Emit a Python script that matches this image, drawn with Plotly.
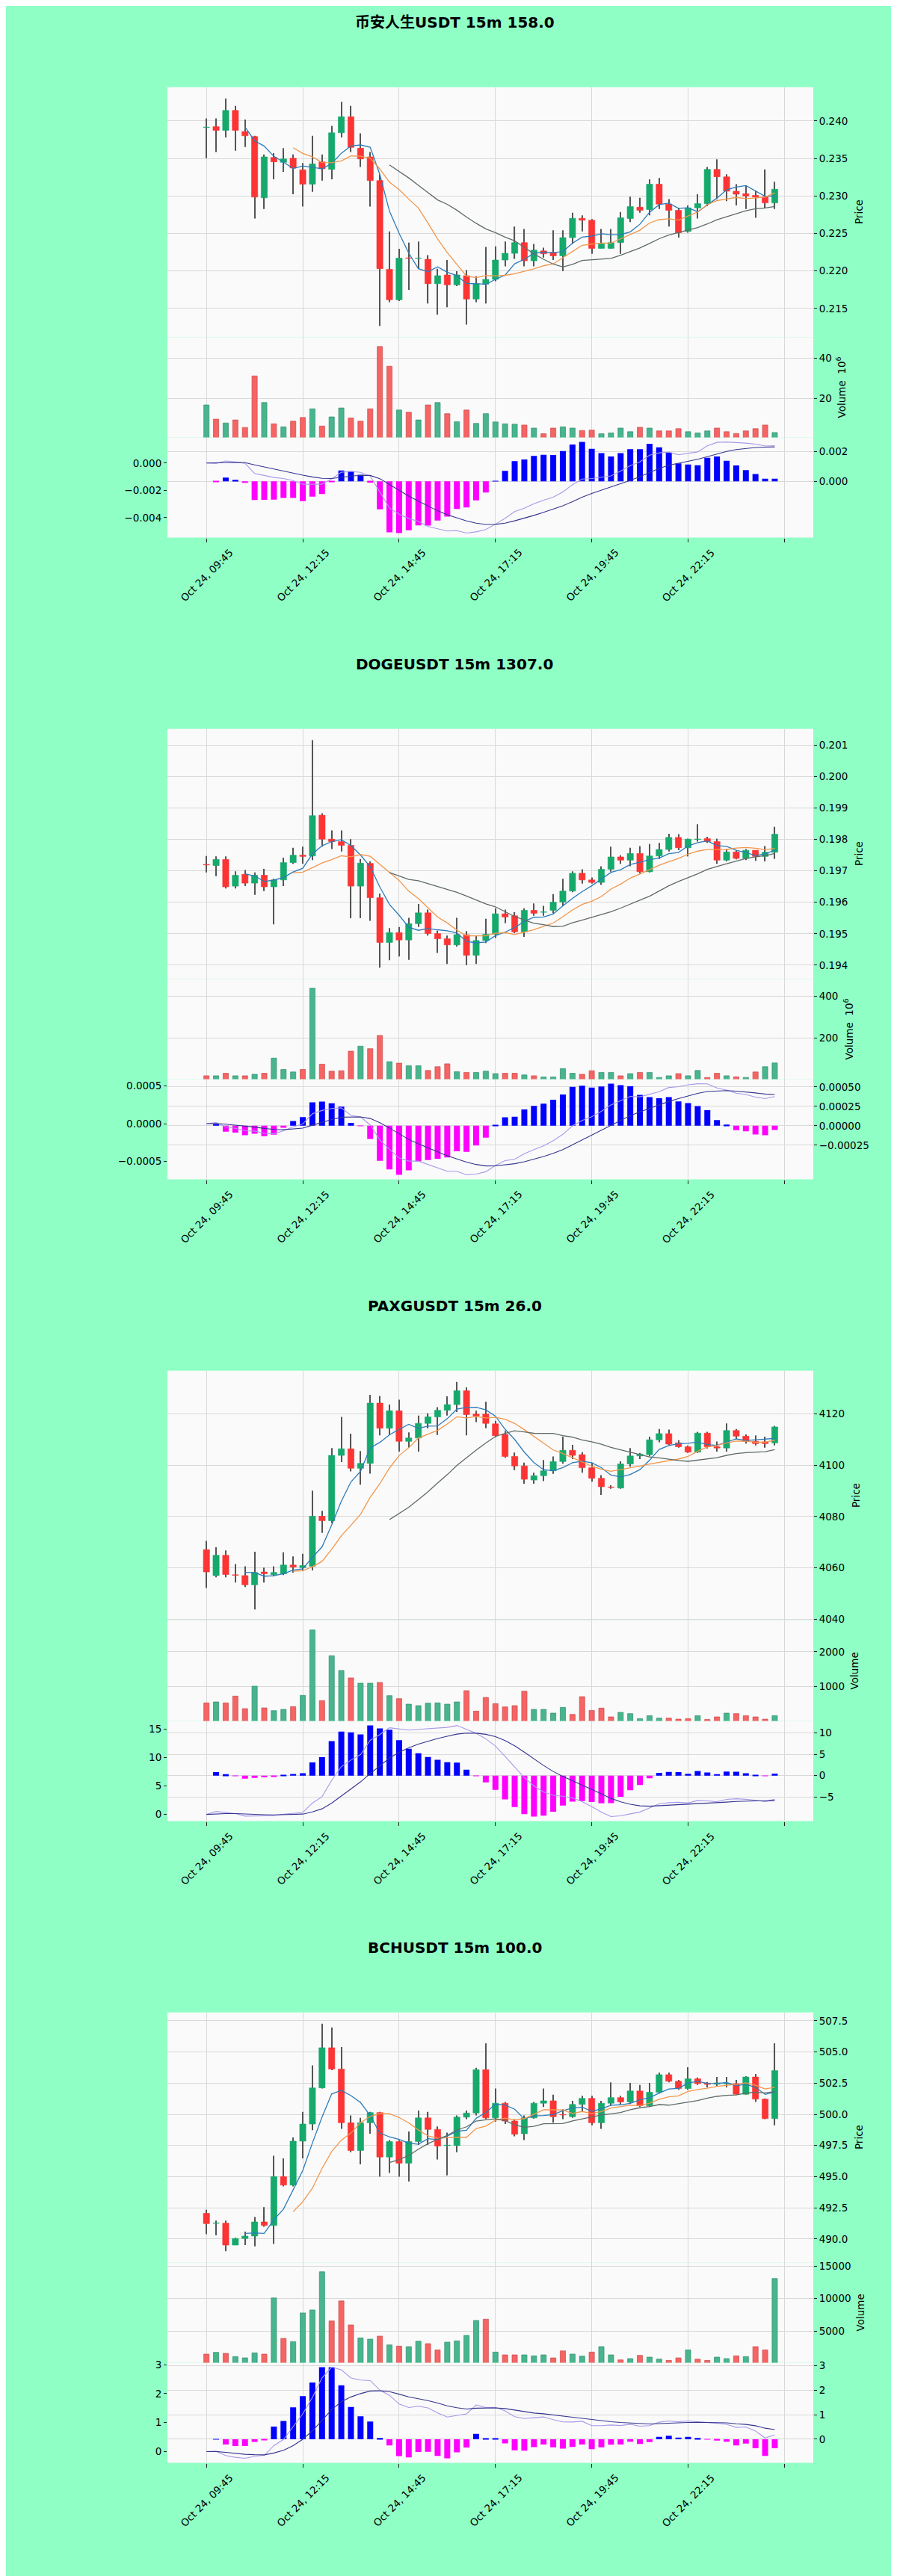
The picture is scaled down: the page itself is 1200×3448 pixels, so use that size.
import numpy as np
import pandas as pd
import plotly.graph_objects as go

# ---------------- data ----------------
TITLES = ["币安人生USDT 15m 158.0", "DOGEUSDT 15m 1307.0", "PAXGUSDT 15m 26.0", "BCHUSDT 15m 100.0"]
TICK_POS = [0, 10, 20, 30, 40, 50, 60]
TICK_LABELS = ["Oct 24, 09:45", "Oct 24, 12:15", "Oct 24, 14:45", "Oct 24, 17:15",
               "Oct 24, 19:45", "Oct 24, 22:15", ""]

p1_open = [0.23911, 0.23924, 0.23874, 0.24139, 0.23858, 0.23791, 0.22974, 0.23513, 0.23447, 0.23503,
           0.23348, 0.23156, 0.23454, 0.23354, 0.23841, 0.24056, 0.23636, 0.23520, 0.23205, 0.22023,
           0.21616, 0.22175, 0.22166, 0.22156, 0.21831, 0.21947, 0.21815, 0.21937, 0.21626, 0.21825,
           0.21888, 0.22146, 0.22235, 0.22378, 0.22136, 0.22268, 0.22245, 0.22202, 0.22444, 0.22702,
           0.22676, 0.22301, 0.22301, 0.22378, 0.22699, 0.22851, 0.22818, 0.23156, 0.22891, 0.22808,
           0.22527, 0.22841, 0.22897, 0.23354, 0.23255, 0.23063, 0.23030, 0.23007, 0.22990, 0.22907]
p1_high = [0.24033, 0.24033, 0.24298, 0.24199, 0.24017, 0.23801, 0.23553, 0.23570, 0.23636, 0.23553,
           0.23437, 0.23801, 0.23553, 0.23934, 0.24255, 0.24199, 0.23834, 0.23586, 0.23288, 0.22527,
           0.22295, 0.22378, 0.22394, 0.22212, 0.22030, 0.22146, 0.21997, 0.22013, 0.21931, 0.22321,
           0.22328, 0.22394, 0.22593, 0.22560, 0.22361, 0.22311, 0.22543, 0.22543, 0.22775, 0.22742,
           0.22692, 0.22560, 0.22560, 0.22785, 0.22990, 0.22974, 0.23222, 0.23238, 0.22957, 0.22841,
           0.22874, 0.23023, 0.23387, 0.23487, 0.23288, 0.23156, 0.23139, 0.23073, 0.23354, 0.23189]
p1_low = [0.23503, 0.23586, 0.23778, 0.23603, 0.23652, 0.22699, 0.22825, 0.23222, 0.23321, 0.23023,
          0.22858, 0.23056, 0.23205, 0.23222, 0.23778, 0.23586, 0.23387, 0.22858, 0.21268, 0.21583,
          0.21600, 0.21749, 0.22030, 0.21566, 0.21417, 0.21517, 0.21798, 0.21285, 0.21583, 0.21566,
          0.21864, 0.22063, 0.22162, 0.22063, 0.22063, 0.22179, 0.22146, 0.21997, 0.22361, 0.22527,
          0.22229, 0.22301, 0.22295, 0.22229, 0.22652, 0.22775, 0.22742, 0.22825, 0.22593, 0.22444,
          0.22510, 0.22699, 0.22864, 0.22957, 0.22931, 0.22874, 0.22825, 0.22709, 0.22841, 0.22825]
p1_close = [0.23915, 0.23874, 0.24139, 0.23874, 0.23801, 0.22984, 0.23520, 0.23454, 0.23493, 0.23371,
            0.23156, 0.23427, 0.23361, 0.23841, 0.24056, 0.23646, 0.23493, 0.23205, 0.22030, 0.21616,
            0.22172, 0.22169, 0.22169, 0.21831, 0.21937, 0.21815, 0.21947, 0.21626, 0.21831, 0.21888,
            0.22146, 0.22235, 0.22378, 0.22136, 0.22278, 0.22229, 0.22202, 0.22444, 0.22702, 0.22676,
            0.22301, 0.22361, 0.22378, 0.22709, 0.22858, 0.22808, 0.23156, 0.22891, 0.22808, 0.22510,
            0.22841, 0.22897, 0.23354, 0.23255, 0.23063, 0.23023, 0.22997, 0.22984, 0.22907, 0.23089]
p1_vol = [16.8, 9.8, 7.9, 9.4, 5.7, 31.1, 18.0, 7.5, 6.0, 8.8,
          10.6, 14.9, 6.4, 10.9, 15.3, 10.4, 8.8, 14.9, 45.6, 35.9,
          14.3, 13.2, 9.4, 16.8, 18.0, 12.5, 8.5, 14.3, 7.7, 12.5,
          8.4, 7.5, 7.3, 6.9, 5.4, 2.6, 5.4, 6.0, 5.4, 4.2,
          4.4, 2.6, 3.0, 5.4, 3.6, 5.8, 5.4, 4.0, 4.0, 5.1,
          3.6, 3.0, 4.0, 5.4, 3.6, 2.7, 4.0, 5.1, 6.9, 3.2]

p2_open = [0.197208, 0.197168, 0.197365, 0.196515, 0.196893, 0.196610, 0.196861, 0.196492, 0.196712, 0.197263,
           0.197499, 0.197475, 0.198773, 0.198010, 0.197931, 0.197813, 0.196515, 0.197239, 0.196145, 0.194721,
           0.195036, 0.194800, 0.195319, 0.195665, 0.195004, 0.194839, 0.194643, 0.194965, 0.194312, 0.194784,
           0.194981, 0.195634, 0.195571, 0.195060, 0.195744, 0.195681, 0.195744, 0.196004, 0.196358, 0.196924,
           0.196712, 0.196633, 0.197050, 0.197444, 0.197341, 0.197554, 0.196972, 0.197475, 0.197680, 0.198065,
           0.197735, 0.198000, 0.198026, 0.197931, 0.197341, 0.197601, 0.197397, 0.197656, 0.197460, 0.197593]
p2_high = [0.197475, 0.197460, 0.197460, 0.196987, 0.197027, 0.196948, 0.197066, 0.196751, 0.197420, 0.197735,
           0.197774, 0.201157, 0.198836, 0.198286, 0.198286, 0.198010, 0.197381, 0.197302, 0.196279, 0.195178,
           0.195217, 0.195508, 0.195949, 0.195768, 0.195099, 0.194942, 0.195508, 0.195083, 0.194942, 0.195477,
           0.195807, 0.195768, 0.195689, 0.195807, 0.195964, 0.195886, 0.196263, 0.196751, 0.196987, 0.197050,
           0.196791, 0.197145, 0.197774, 0.197499, 0.197735, 0.197790, 0.197853, 0.197892, 0.198183, 0.198167,
           0.198026, 0.198482, 0.198089, 0.198026, 0.197695, 0.197656, 0.197695, 0.197656, 0.197790, 0.198404]
p2_low = [0.196948, 0.196830, 0.196437, 0.196437, 0.196515, 0.196240, 0.196358, 0.195296, 0.196515, 0.197223,
          0.197223, 0.197341, 0.197774, 0.197695, 0.197617, 0.195492, 0.195492, 0.195414, 0.193919, 0.194155,
          0.194273, 0.194171, 0.195217, 0.194942, 0.194391, 0.194037, 0.194588, 0.193998, 0.194037, 0.194706,
          0.194863, 0.195335, 0.195020, 0.194902, 0.195571, 0.195571, 0.195650, 0.195886, 0.196319, 0.196594,
          0.196594, 0.196555, 0.196972, 0.197223, 0.197145, 0.196924, 0.196948, 0.197381, 0.197617, 0.197656,
          0.197460, 0.197931, 0.197892, 0.197223, 0.197302, 0.197365, 0.197341, 0.197318, 0.197302, 0.197381]
p2_close = [0.197190, 0.197365, 0.196492, 0.196861, 0.196610, 0.196861, 0.196492, 0.196712, 0.197263, 0.197499,
            0.197460, 0.198758, 0.198010, 0.197931, 0.197813, 0.196515, 0.197247, 0.196145, 0.194721, 0.195036,
            0.194800, 0.195319, 0.195665, 0.195004, 0.194839, 0.194643, 0.194973, 0.194312, 0.194784, 0.194981,
            0.195634, 0.195532, 0.195060, 0.195744, 0.195650, 0.195689, 0.196004, 0.196358, 0.196924, 0.196712,
            0.196633, 0.197050, 0.197444, 0.197341, 0.197554, 0.196972, 0.197475, 0.197680, 0.198065, 0.197735,
            0.198010, 0.198010, 0.197931, 0.197341, 0.197601, 0.197397, 0.197656, 0.197460, 0.197593, 0.198167]
p2_vol = [20, 20, 32, 20, 20, 27, 32, 104, 50, 38,
          50, 437, 75, 42, 44, 137, 161, 149, 212, 87,
          80, 68, 68, 45, 63, 77, 39, 36, 36, 42,
          30, 32, 32, 24, 20, 14, 14, 54, 32, 27,
          44, 36, 36, 20, 30, 36, 36, 12, 20, 30,
          20, 45, 12, 32, 20, 15, 12, 38, 63, 81]

p3_open = [4067.1, 4057.0, 4064.9, 4057.3, 4057.0, 4053.4, 4058.4, 4057.3, 4057.7, 4061.1,
           4060.1, 4060.6, 4080.1, 4078.4, 4103.8, 4106.4, 4098.8, 4100.7, 4124.2, 4114.4,
           4121.2, 4109.3, 4110.6, 4116.3, 4118.8, 4121.4, 4123.6, 4129.0, 4119.9, 4119.9,
           4116.1, 4112.0, 4103.4, 4099.7, 4094.2, 4095.9, 4097.8, 4101.4, 4105.8, 4104.1,
           4099.0, 4094.9, 4091.5, 4091.1, 4100.5, 4103.6, 4104.1, 4109.9, 4112.3, 4108.7,
           4107.2, 4105.1, 4112.5, 4107.2, 4106.7, 4113.5, 4111.3, 4109.3, 4109.1, 4108.7]
p3_high = [4070.5, 4068.0, 4066.8, 4061.5, 4060.6, 4066.3, 4060.1, 4060.6, 4066.1, 4064.5,
           4065.5, 4090.1, 4082.2, 4106.7, 4118.8, 4112.3, 4105.5, 4127.4, 4127.0, 4123.6,
           4125.5, 4112.8, 4119.3, 4120.2, 4122.6, 4126.8, 4132.4, 4130.3, 4121.2, 4124.7,
           4117.3, 4113.4, 4104.9, 4101.0, 4097.1, 4102.0, 4103.4, 4111.1, 4107.9, 4105.1,
           4101.0, 4096.1, 4092.2, 4101.5, 4106.7, 4104.8, 4111.1, 4114.1, 4113.9, 4109.7,
           4107.7, 4113.0, 4113.0, 4109.2, 4116.3, 4114.1, 4112.0, 4111.6, 4111.1, 4115.3]
p3_low = [4052.2, 4056.3, 4056.3, 4054.3, 4052.5, 4043.8, 4054.3, 4056.7, 4057.2, 4058.1,
          4059.0, 4059.0, 4073.6, 4077.4, 4101.2, 4097.6, 4092.4, 4096.7, 4111.6, 4111.8,
          4105.3, 4106.8, 4105.3, 4114.4, 4111.8, 4119.3, 4120.7, 4111.6, 4116.8, 4114.4,
          4110.9, 4102.9, 4098.1, 4092.8, 4092.8, 4093.8, 4096.6, 4100.6, 4102.4, 4097.1,
          4093.6, 4088.4, 4090.8, 4090.8, 4099.4, 4102.4, 4103.4, 4108.9, 4107.7, 4106.8,
          4104.8, 4104.8, 4106.5, 4105.3, 4105.3, 4110.2, 4108.4, 4107.7, 4106.8, 4107.7]
p3_close = [4058.4, 4064.9, 4057.4, 4057.1, 4053.4, 4058.2, 4057.7, 4058.2, 4061.1, 4060.3,
            4060.9, 4080.1, 4078.4, 4103.8, 4106.4, 4098.8, 4100.7, 4124.2, 4114.4, 4121.2,
            4109.3, 4110.6, 4116.3, 4118.8, 4121.4, 4123.6, 4129.0, 4119.7, 4119.2, 4116.3,
            4111.5, 4103.4, 4099.7, 4094.5, 4095.9, 4097.8, 4101.4, 4105.8, 4103.8, 4099.0,
            4094.9, 4091.6, 4091.3, 4100.5, 4103.6, 4104.3, 4109.9, 4112.3, 4108.2, 4107.2,
            4105.1, 4112.5, 4107.2, 4106.7, 4113.5, 4111.3, 4109.3, 4108.4, 4108.4, 4114.9]
p3_vol = [536, 564, 536, 729, 371, 1014, 393, 314, 350, 429,
          750, 2621, 600, 1886, 1464, 1250, 1100, 1100, 1121, 743,
          657, 500, 457, 529, 536, 500, 564, 886, 300, 693,
          514, 421, 457, 871, 350, 350, 243, 407, 207, 714,
          321, 386, 136, 264, 229, 86, 171, 100, 100, 71,
          86, 171, 64, 136, 243, 229, 171, 136, 71, 171]

p4_open = [492.06, 491.25, 491.27, 489.51, 490.04, 490.23, 491.37, 491.08, 495.00, 494.32,
           497.85, 499.22, 502.12, 505.34, 503.63, 499.32, 497.10, 499.32, 500.14, 496.57,
           497.81, 496.08, 497.81, 499.71, 498.79, 497.49, 497.49, 499.77, 500.10, 503.58,
           499.71, 500.89, 499.46, 498.44, 499.71, 500.89, 501.08, 499.99, 499.81, 500.79,
           501.28, 499.32, 500.89, 501.34, 500.99, 501.87, 500.69, 501.77, 503.18, 502.65,
           502.07, 502.85, 502.50, 502.42, 502.44, 502.46, 501.61, 502.99, 501.22, 499.65]
p4_high = [492.35, 491.47, 491.47, 490.10, 490.59, 491.76, 492.55, 496.67, 496.47, 498.14,
           500.20, 503.93, 507.26, 506.97, 505.40, 499.91, 499.71, 500.20, 500.20, 497.94,
           497.94, 498.63, 500.30, 500.20, 499.02, 498.53, 499.91, 500.30, 503.73, 505.69,
           502.07, 500.99, 499.61, 499.91, 500.99, 502.07, 501.57, 500.40, 501.08, 501.48,
           501.48, 501.08, 502.56, 501.48, 502.52, 502.36, 502.52, 503.34, 503.34, 502.75,
           503.77, 502.95, 502.59, 502.99, 502.99, 502.75, 503.05, 503.24, 501.28, 505.69]
p4_low = [490.39, 490.29, 489.02, 489.51, 489.51, 489.41, 490.98, 489.61, 494.22, 494.22,
          496.47, 498.73, 502.07, 503.54, 498.83, 496.96, 495.98, 498.44, 495.00, 495.30,
          495.00, 494.61, 497.55, 497.55, 496.38, 495.10, 496.96, 499.61, 499.91, 499.61,
          499.42, 499.22, 498.24, 497.94, 499.65, 500.59, 499.32, 499.61, 499.71, 500.20,
          499.12, 498.83, 500.69, 500.79, 500.83, 500.59, 500.59, 501.67, 502.56, 501.97,
          501.97, 502.36, 502.16, 502.26, 502.16, 501.57, 501.57, 500.99, 499.61, 499.12]
p4_close = [491.23, 491.27, 489.51, 490.04, 490.23, 491.37, 491.08, 495.00, 494.32, 497.85,
            499.22, 502.12, 505.34, 503.63, 499.32, 497.10, 499.32, 500.14, 496.57, 497.81,
            496.08, 497.81, 499.71, 498.79, 497.45, 497.50, 499.77, 500.10, 503.58, 499.71,
            500.89, 499.46, 498.40, 499.71, 500.89, 501.08, 499.81, 499.95, 500.79, 501.28,
            499.32, 500.89, 501.34, 500.99, 501.87, 500.69, 501.77, 503.18, 502.65, 502.07,
            502.85, 502.46, 502.40, 502.52, 502.50, 501.61, 502.99, 501.22, 499.65, 503.50]
p4_vol = [1475, 1743, 1590, 1092, 900, 1667, 1475, 10096, 3889, 3391,
          7797, 8257, 14119, 6571, 9636, 5958, 3966, 3774, 4234, 2893,
          2701, 2625, 3467, 3084, 2126, 3314, 3506, 4349, 6648, 6839,
          1782, 1360, 1360, 1360, 1207, 1360, 900, 1973, 1475, 1169,
          1782, 2625, 1360, 594, 785, 1284, 1015, 709, 517, 900,
          2126, 709, 517, 1015, 785, 1207, 1092, 2625, 2126, 13084]

# axis tick values per panel
p1_price_ticks = [0.215, 0.220, 0.225, 0.230, 0.235, 0.240]
p2_price_ticks = [0.194, 0.195, 0.196, 0.197, 0.198, 0.199, 0.200, 0.201]
p3_price_ticks = [4040, 4060, 4080, 4100, 4120]
p4_price_ticks = [490.0, 492.5, 495.0, 497.5, 500.0, 502.5, 505.0, 507.5]
p1_vol_ticks = [20, 40]
p2_vol_ticks = [200, 400]
p3_vol_ticks = [1000, 2000]
p4_vol_ticks = [5000, 10000, 15000]
p1_hist_ticks = [0.0, 0.002]
p2_hist_ticks = [-0.00025, 0.0, 0.00025, 0.0005]
p3_hist_ticks = [-5, 0, 5, 10]
p4_hist_ticks = [0, 1, 2, 3]
p1_line_ticks = [-0.004, -0.002, 0.0]
p2_line_ticks = [-0.0005, 0.0, 0.0005]
p3_line_ticks = [0, 5, 10, 15]
p4_line_ticks = [0, 1, 2, 3]

# ---------------- style / geometry ----------------
W, H = 1200, 3448
PANEL_H = 862
X0, X1 = 216, 1080
PRICE_TOP, VOL_TOP, MACD_TOP, MACD_BOT = 103, 439, 573.5, 708
XR = [-4.05, 63.0]

BG = '#8fffc6'
PLOT_BG = '#fafafa'
GRID = '#d9d9d9'
UP, DOWN = '#16a96c', '#fd3434'
VUP, VDOWN = '#48b58e', '#f66464'
VUP_E, VDOWN_E = '#2f8f6c', '#c94a4a'
WICK = '#555555'
MA_COLORS = ['#2b7bba', '#f3964a', '#5f6b66']
DIF_C, DEA_C = '#a898e8', '#34348f'
HPOS, HNEG = '#0000ff', '#ff00ff'
FONT = 'DejaVu Sans, Noto Sans CJK SC'
TICKFONT = 13.5

panels = [
    dict(o=p1_open, h=p1_high, l=p1_low, c=p1_close, v=p1_vol,
         pt=p1_price_ticks, pf='{:.3f}', vt=p1_vol_ticks, ht=p1_hist_ticks, hf='{:.3f}',
         lt=p1_line_ticks, lf='{:.3f}', vlabel='Volume  10<sup>6</sup>', px=1141, vx=1118),
    dict(o=p2_open, h=p2_high, l=p2_low, c=p2_close, v=p2_vol,
         pt=p2_price_ticks, pf='{:.3f}', vt=p2_vol_ticks, ht=p2_hist_ticks, hf='{:.5f}',
         lt=p2_line_ticks, lf='{:.4f}', vlabel='Volume  10<sup>6</sup>', px=1141, vx=1128),
    dict(o=p3_open, h=p3_high, l=p3_low, c=p3_close, v=p3_vol,
         pt=p3_price_ticks, pf='{:.0f}', vt=p3_vol_ticks, ht=p3_hist_ticks, hf='{:.0f}',
         lt=p3_line_ticks, lf='{:.0f}', vlabel='Volume', px=1137, vx=1135),
    dict(o=p4_open, h=p4_high, l=p4_low, c=p4_close, v=p4_vol,
         pt=p4_price_ticks, pf='{:.1f}', vt=p4_vol_ticks, ht=p4_hist_ticks, hf='{:.0f}',
         lt=p4_line_ticks, lf='{:.0f}', vlabel='Volume', px=1141, vx=1143),
]


def fmt(v, f):
    s = f.format(v)
    if s.startswith('-') and float(s) == 0:
        s = s[1:]
    return s.replace('-', '\u2212')


def py(px):
    return 1 - px / H


def nm(prefix, i):
    return prefix if i == 1 else f'{prefix}{i}'


def pad(lo, hi, frac=0.05):
    s = hi - lo
    return [lo - frac * s, hi + frac * s]


fig = go.Figure()
layout = dict(width=W, height=H, margin=dict(l=0, r=0, t=0, b=0),
              paper_bgcolor=BG, plot_bgcolor=PLOT_BG, barmode='overlay', showlegend=False,
              font=dict(family=FONT, size=TICKFONT, color='#000000'))
annotations = []

for p, P in enumerate(panels):
    off = p * PANEL_H
    xi = [3 * p + 1, 3 * p + 2, 3 * p + 3]
    yi = [4 * p + 1, 4 * p + 2, 4 * p + 3, 4 * p + 4]
    o, h, l, c, v = (np.array(P[k], dtype=float) for k in ('o', 'h', 'l', 'c', 'v'))
    idx = np.arange(len(c))
    up = c >= o

    # ---- price panel ----
    span = h.max() - l.min()
    eps = span * 0.002
    fig.add_trace(go.Bar(x=idx, y=h - l, base=l, width=0.09,
                         marker=dict(color=WICK, line=dict(width=0)),
                         xaxis=nm('x', xi[0]), yaxis=nm('y', yi[0]), hoverinfo='skip'))
    cols = [UP if u else DOWN for u in up]
    fig.add_trace(go.Bar(x=idx, y=np.maximum(np.abs(c - o), eps), base=np.minimum(o, c), width=0.64,
                         marker=dict(color=cols, line=dict(color=cols, width=0.6)),
                         xaxis=nm('x', xi[0]), yaxis=nm('y', yi[0]), hoverinfo='skip'))
    cs = pd.Series(c)
    for n, col in zip((5, 10, 20), MA_COLORS):
        ma = cs.rolling(n).mean()
        fig.add_trace(go.Scatter(x=idx, y=[None if np.isnan(m) else m for m in ma], mode='lines',
                                 line=dict(color=col, width=1.3),
                                 xaxis=nm('x', xi[0]), yaxis=nm('y', yi[0]), hoverinfo='skip'))

    # ---- volume panel ----
    vcols = [VUP if u else VDOWN for u in up]
    vecols = [VUP_E if u else VDOWN_E for u in up]
    fig.add_trace(go.Bar(x=idx, y=v, width=0.55,
                         marker=dict(color=vcols, line=dict(color=vecols, width=0.7)),
                         xaxis=nm('x', xi[1]), yaxis=nm('y', yi[1]), hoverinfo='skip'))

    # ---- MACD panel ----
    dif = cs.ewm(span=12, adjust=False).mean() - cs.ewm(span=26, adjust=False).mean()
    dea = dif.ewm(span=9, adjust=False).mean()
    hist = 2 * (dif - dea)
    fig.add_trace(go.Bar(x=idx, y=hist, width=0.62,
                         marker=dict(color=[HPOS if x >= 0 else HNEG for x in hist], line=dict(width=0)),
                         xaxis=nm('x', xi[2]), yaxis=nm('y', yi[2]), hoverinfo='skip'))
    fig.add_trace(go.Scatter(x=idx, y=dif, mode='lines', line=dict(color=DIF_C, width=1.1),
                             xaxis=nm('x', xi[2]), yaxis=nm('y', yi[3]), hoverinfo='skip'))
    fig.add_trace(go.Scatter(x=idx, y=dea, mode='lines', line=dict(color=DEA_C, width=1.1),
                             xaxis=nm('x', xi[2]), yaxis=nm('y', yi[3]), hoverinfo='skip'))

    # ---- axes ----
    tops = [PRICE_TOP, VOL_TOP, MACD_TOP]
    bots = [VOL_TOP, MACD_TOP, MACD_BOT]
    for k in range(3):
        layout[nm('xaxis', xi[k])] = dict(
            domain=[X0 / W, X1 / W], range=XR, anchor=nm('y', yi[k]),
            tickvals=TICK_POS, showticklabels=False, showgrid=True, gridcolor=GRID, gridwidth=1,
            zeroline=False, showline=False,
            ticks='outside' if k == 2 else '', ticklen=5, tickwidth=1, tickcolor='#222222')
    common = dict(side='right', ticks='outside', ticklen=4, tickwidth=1, tickcolor='#222222',
                  showgrid=True, gridcolor=GRID, gridwidth=1, zeroline=False, showline=False,
                  tickfont=dict(size=TICKFONT, color='#000000'))
    layout[nm('yaxis', yi[0])] = dict(
        domain=[py(off + bots[0]), py(off + tops[0])], anchor=nm('x', xi[0]),
        range=pad(l.min(), h.max()), tickvals=P['pt'], ticktext=[fmt(t, P['pf']) for t in P['pt']], **common)
    layout[nm('yaxis', yi[1])] = dict(
        domain=[py(off + bots[1]), py(off + tops[1])], anchor=nm('x', xi[1]),
        range=[0.3 * v.min(), 1.1 * v.max()], tickvals=P['vt'], ticktext=[str(t) for t in P['vt']], **common)
    hlo, hhi = min(hist.min(), 0), max(hist.max(), 0)
    layout[nm('yaxis', yi[2])] = dict(
        domain=[py(off + bots[2]), py(off + tops[2])], anchor=nm('x', xi[2]),
        range=pad(hlo, hhi), tickvals=P['ht'], ticktext=[fmt(t, P['hf']) for t in P['ht']], **common)
    llo = min(dif.min(), dea.min())
    lhi = max(dif.max(), dea.max())
    layout[nm('yaxis', yi[3])] = dict(
        overlaying=nm('y', yi[2]), anchor=nm('x', xi[2]), side='left',
        range=pad(llo, lhi), tickvals=P['lt'], ticktext=[fmt(t, P['lf']) for t in P['lt']],
        ticks='outside', ticklen=4, tickwidth=1, tickcolor='#222222', showgrid=False,
        zeroline=False, showline=False, tickfont=dict(size=TICKFONT, color='#000000'))

    # ---- texts ----
    annotations.append(dict(text='<b>' + TITLES[p] + '</b>', x=0.5, y=py(off + 16.5), xref='paper', yref='paper',
                            xanchor='center', yanchor='middle', showarrow=False,
                            font=dict(size=20, family=FONT, color='#000000')))
    annotations.append(dict(text='Price', x=P['px'] / W, y=py(off + (PRICE_TOP + VOL_TOP) / 2),
                            xref='paper', yref='paper', textangle=-90, xanchor='center', yanchor='middle',
                            showarrow=False, font=dict(size=TICKFONT, color='#000000')))
    annotations.append(dict(text=P['vlabel'], x=P['vx'] / W, y=py(off + (VOL_TOP + MACD_TOP) / 2),
                            xref='paper', yref='paper', textangle=-90, xanchor='center', yanchor='middle',
                            showarrow=False, font=dict(size=TICKFONT, color='#000000')))
    for t, lab in zip(TICK_POS, TICK_LABELS):
        if lab:
            annotations.append(dict(text=lab, x=t, xref=nm('x', xi[2]), y=py(off + 717), yref='paper',
                                    xanchor='center', yanchor='top', textangle=-45, showarrow=False,
                                    font=dict(size=TICKFONT, color='#000000')))

layout['annotations'] = annotations
fig.update_layout(**layout)
fig.write_html("out.html")
